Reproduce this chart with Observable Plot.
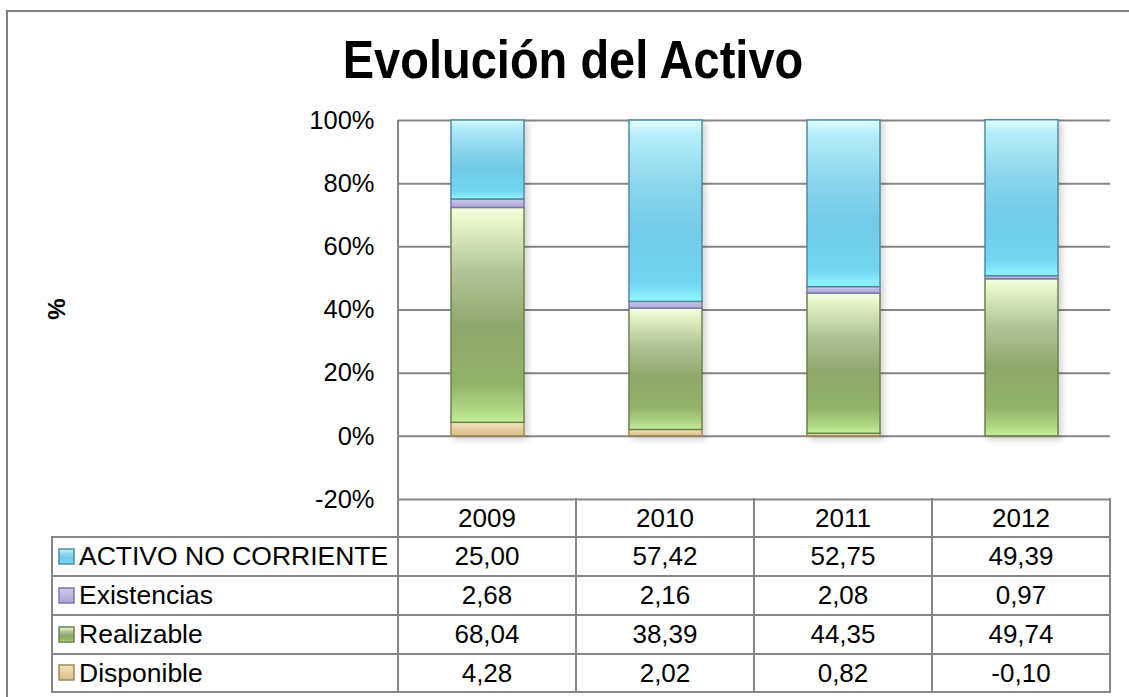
<!DOCTYPE html>
<html><head><meta charset="utf-8">
<script src="https://cdn.jsdelivr.net/npm/d3@7"></script>
<script src="https://cdn.jsdelivr.net/npm/@observablehq/plot@0.6"></script>
<style>
body{margin:0;background:#fff;font-family:"Liberation Sans",Arial,sans-serif;color:#000;}
#wrap{position:relative;width:1129px;height:697px;overflow:hidden;background:#fff;}
#border{position:absolute;left:6px;top:10px;width:1200px;height:800px;border:2px solid #808080;box-sizing:border-box;}
#title{position:absolute;left:0;width:1146px;top:38px;line-height:47px;text-align:center;font-weight:bold;font-size:47px;transform:scaleY(1.16);transform-origin:50% 40px;}
#ylabel{position:absolute;left:57px;top:309px;transform:translate(-50%,-50%) rotate(-90deg);font-weight:bold;font-size:24px;}
#chart{position:absolute;left:0;top:0;}
.hl{position:absolute;height:2px;background:#868686;}
.vl{position:absolute;width:2px;background:#868686;}
.cell{position:absolute;display:flex;align-items:center;justify-content:center;font-size:26px;white-space:nowrap;}
.lab{justify-content:flex-start;font-size:26.5px;}
.lab svg{margin-right:3px;}
</style></head>
<body>
<div id="wrap">
  <div id="border"></div>
  <div id="title">Evolución del Activo</div>
  <div id="ylabel">%</div>
  <div id="chart"></div>
</div>
<script>
const years = ["2009", "2010", "2011", "2012"];
const disponible = [4.28, 2.02, 0.82, -0.10];
const realizable = [68.04, 38.39, 44.35, 49.74];
const existencias = [2.68, 2.16, 2.08, 0.97];
const activoNoCorriente = [25.00, 57.42, 52.75, 49.39];
const yTicks = [-20, 0, 20, 40, 60, 80, 100];

// stacking order, bottom to top
const seriesList = [
  {name: "Disponible", values: disponible, id: "gTan", stroke: "#a08a5c",
   stops: [[0, "#f4e4c0"], [1, "#d8bc84"]]},
  {name: "Realizable", values: realizable, id: "gGreen", stroke: "#6a844e",
   stops: [[0, "#f6ffe2"], [0.07, "#e4f4c6"], [0.3, "#b2c496"], [0.55, "#90a86c"], [0.82, "#92b268"], [0.95, "#b2da86"], [1, "#c8f09a"]]},
  {name: "Existencias", values: existencias, id: "gPurple", stroke: "#7e7aa8",
   stops: [[0, "#cecaee"], [1, "#aaa6d6"]]},
  {name: "ACTIVO NO CORRIENTE", values: activoNoCorriente, id: "gBlue", stroke: "#4f8c9e",
   stops: [[0, "#e0fdff"], [0.08, "#b6eefa"], [0.35, "#8cd6ee"], [0.62, "#72cbe8"], [0.9, "#72d6f2"], [1, "#90f6ff"]]}
];
// table row order
const tableOrder = ["ACTIVO NO CORRIENTE", "Existencias", "Realizable", "Disponible"];
const byName = Object.fromEntries(seriesList.map(s => [s.name, s]));

const data = [];
years.forEach((yr, i) => seriesList.forEach(s => data.push({year: yr, series: s.name, value: s.values[i]})));

const svg = Plot.plot({
  width: 1129, height: 520,
  marginLeft: 398, marginRight: 19, marginTop: 120, marginBottom: 21,
  x: {domain: years, paddingInner: 0.59, paddingOuter: 0.295, axis: null},
  y: {domain: [-20, 100], axis: null, label: null},
  color: {type: "identity"},
  style: {fontFamily: "'Liberation Sans', Arial, sans-serif", fontSize: "25px", color: "#000", background: "transparent", overflow: "visible"},
  marks: [
    Plot.ruleY(yTicks, {stroke: "#868686", strokeWidth: 2, strokeOpacity: 1}),
    Plot.axisY({ticks: yTicks, tickFormat: d => d + "%", tickSize: 0, tickPadding: 24, fontSize: 25.5, label: null}),
    Plot.barY(data, Plot.stackY({
      x: "year", y: "value", z: "series",
      fill: d => "url(#" + byName[d.series].id + ")",
      stroke: d => byName[d.series].stroke,
      strokeWidth: 1.5
    }))
  ]
});

// gradients and shadow
const defs = d3.select(svg).insert("defs", ":first-child");
seriesList.forEach(s => {
  const g = defs.append("linearGradient").attr("id", s.id)
    .attr("x1", 0).attr("y1", 0).attr("x2", 0).attr("y2", 1);
  s.stops.forEach(([o, c]) => g.append("stop").attr("offset", o).attr("stop-color", c));
});
const f = defs.append("filter").attr("id", "shadow").attr("x", "-10%").attr("y", "-10%").attr("width", "130%").attr("height", "130%");
f.append("feDropShadow").attr("dx", 3).attr("dy", 3).attr("stdDeviation", 3).attr("flood-color", "#000").attr("flood-opacity", 0.18);
const barG = svg.querySelector('g[aria-label="bar"]');
if (barG) barG.setAttribute("filter", "url(#shadow)");

const wrap = document.getElementById("wrap");
document.getElementById("chart").appendChild(svg);

// data table
const colX = [52, 398, 576, 754, 932, 1110];
const rowY = [499, 537, 576, 615, 654, 692];
function line(cls, l, t, w, h) {
  const d = document.createElement("div");
  d.className = cls;
  d.style.left = l + "px"; d.style.top = t + "px";
  if (w != null) d.style.width = w + "px";
  if (h != null) d.style.height = h + "px";
  wrap.appendChild(d);
}
rowY.slice(1).forEach(y => line("hl", colX[0], y - 1, colX[5] - colX[0] + 1, null));
line("vl", colX[0] - 1, rowY[1] - 1, null, rowY[5] - rowY[1] + 2);
line("vl", colX[1] - 1, 120, null, rowY[5] - 120 + 1);
for (let k = 2; k < colX.length; k++) line("vl", colX[k] - 1, rowY[0] - 1, null, rowY[5] - rowY[0] + 2);

function cell(text, c, r, extraClass) {
  const d = document.createElement("div");
  d.className = "cell" + (extraClass ? " " + extraClass : "");
  d.style.left = colX[c] + "px"; d.style.width = (colX[c + 1] - colX[c]) + "px";
  d.style.top = rowY[r] + "px"; d.style.height = (rowY[r + 1] - rowY[r]) + "px";
  if (typeof text === "string") d.textContent = text; else d.appendChild(text);
  wrap.appendChild(d);
  return d;
}
years.forEach((yr, i) => cell(yr, i + 1, 0));
const fmt = v => v.toFixed(2).replace(".", ",");
tableOrder.forEach((name, r) => {
  const s = byName[name];
  const lab = cell("", 0, r + 1, "lab");
  lab.style.paddingLeft = "6px";
  lab.style.boxSizing = "border-box";
  const m = d3.create("svg").attr("width", 18).attr("height", 18);
  m.append("rect").attr("x", 1).attr("y", 1).attr("width", 15).attr("height", 15)
    .attr("fill", "url(#" + s.id + ")").attr("stroke", s.stroke).attr("stroke-width", 1.5);
  lab.appendChild(m.node());
  lab.appendChild(document.createTextNode(name));
  s.values.forEach((v, i) => cell(fmt(v), i + 1, r + 1));
});
</script>
</body></html>
